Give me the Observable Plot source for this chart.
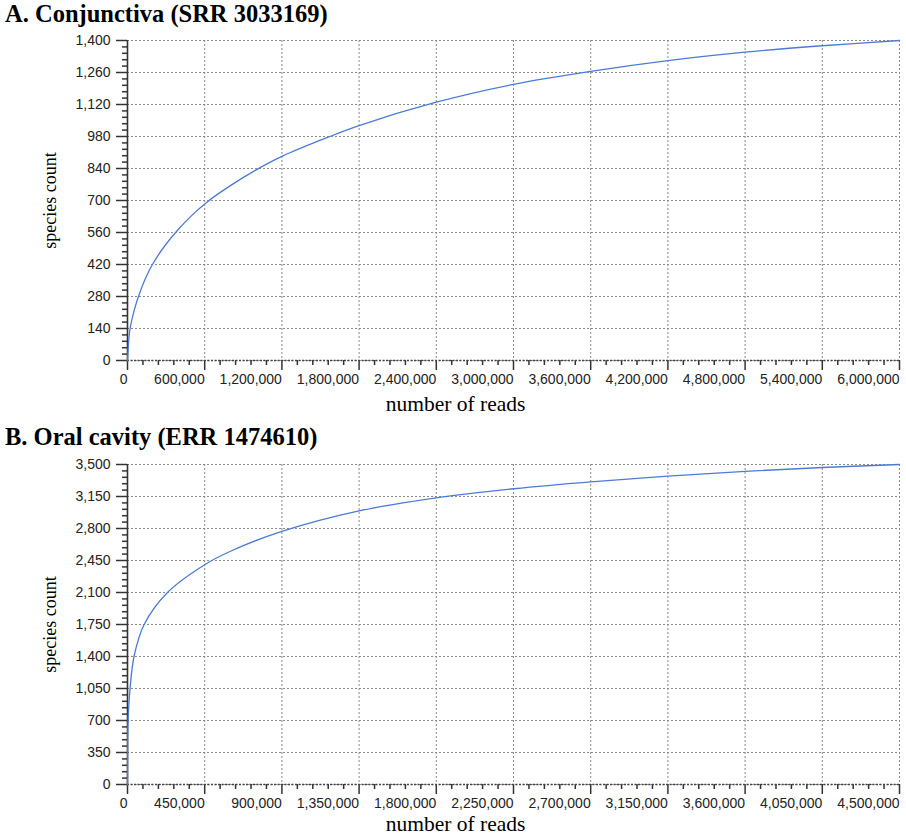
<!DOCTYPE html>
<html><head><meta charset="utf-8">
<script src="https://cdn.jsdelivr.net/npm/d3@7"></script>
<script src="https://cdn.jsdelivr.net/npm/@observablehq/plot@0.6"></script>
<style>
body{margin:0;background:#fff;width:906px;}
.title{font-family:"Liberation Serif","Times New Roman",serif;font-weight:bold;font-size:24.5px;line-height:27.4px;height:24px;overflow:visible;padding-left:5px;color:#000;white-space:nowrap;}
svg{display:block}
</style></head><body><div id="root"></div>
<script>
// Panel A: Conjunctiva (SRR 3033169)
const readsA   = [0, 10000, 20000, 50000, 85000, 140000, 194000, 290000, 389000, 500000, 622000, 803000, 1000000, 1200000, 1550000, 1800000, 2400000, 3000000, 3600000, 4200000, 4800000, 5400000, 6000000];
const speciesA = [0, 90,    140,   215,   280,   360,    420,    502,    570,    635,    695,    766,    834,     893,     975,     1028,    1130,    1208,    1265,    1312,    1349,    1377,    1400];
const xTicksA = [0, 600000, 1200000, 1800000, 2400000, 3000000, 3600000, 4200000, 4800000, 5400000, 6000000];
const yTicksA = [0, 140, 280, 420, 560, 700, 840, 980, 1120, 1260, 1400];

// Panel B: Oral cavity (ERR 1474610)
const readsB   = [0, 1000, 3500, 15000, 38000, 97000, 233000, 450000, 600000, 900000, 1350000, 1800000, 2250000, 2700000, 3150000, 3600000, 4050000, 4500000];
const speciesB = [0, 350,  700,  1050,  1400,  1750,  2100,   2404,   2551,   2769,   2993,    3136,    3235,    3311,    3372,    3425,    3467,    3500];
const xTicksB = [0, 450000, 900000, 1350000, 1800000, 2250000, 2700000, 3150000, 3600000, 4050000, 4500000];
const yTicksB = [0, 350, 700, 1050, 1400, 1750, 2100, 2450, 2800, 3150, 3500];

const titles = ["A. Conjunctiva (SRR 3033169)", "B. Oral cavity (ERR 1474610)"];
const xLabel = "number of reads";
const yLabel = "species count";

const serif = '"Liberation Serif","Times New Roman",serif';
const fmt = d3.format(",");

function minor(ticks) {
  const step = (ticks[1] - ticks[0]) / 5;
  const out = [];
  for (let i = 0; i < ticks.length - 1; i++) for (let k = 1; k < 5; k++) out.push(ticks[i] + k * step);
  return out;
}

function panel(reads, species, xTicks, yTicks, height, marginTop, marginBottom, xLabDy) {
  const data = reads.map((r, i) => ({r, s: species[i]}));
  return Plot.plot({
    width: 906, height, marginLeft: 127, marginRight: 7, marginTop, marginBottom,
    style: {fontFamily: '"Liberation Sans", Arial, sans-serif', fontSize: "14px", color: "#222", background: "#fff", overflow: "visible"},
    x: {domain: [0, xTicks[xTicks.length - 1]], label: null},
    y: {domain: [0, yTicks[yTicks.length - 1]], label: null},
    marks: [
      Plot.gridX(xTicks, {stroke: "#8a8a8a", strokeOpacity: 1, strokeDasharray: "2,2"}),
      Plot.gridY(yTicks, {stroke: "#8a8a8a", strokeOpacity: 1, strokeDasharray: "2,2"}),
      Plot.axisX(minor(xTicks), {tickSize: 5, tickFormat: () => "", stroke: "#333", strokeWidth: 1.5}),
      Plot.axisX(xTicks, {tickSize: 10, tickPadding: 4, textAnchor: "end", tickFormat: fmt, stroke: "#333", strokeWidth: 1.5, fill: "#222", fontSize: 14}),
      Plot.axisY(minor(yTicks), {tickSize: 5, tickFormat: () => "", stroke: "#333", strokeWidth: 1.5}),
      Plot.axisY(yTicks, {tickSize: 11, tickPadding: 6, tickFormat: fmt, stroke: "#333", strokeWidth: 1.5, fill: "#222", fontSize: 14}),
      Plot.ruleX([0], {stroke: "#333", strokeWidth: 1.6}),
      Plot.ruleY([0], {stroke: "#444", strokeWidth: 1.3, strokeDasharray: "2,1.5"}),
      Plot.line(data, {x: "r", y: "s", stroke: "#4b7bd8", strokeWidth: 1.3, curve: "catmull-rom"}),
      Plot.text([yLabel], {frameAnchor: "left", textAnchor: "middle", lineAnchor: "middle", dx: -77, rotate: -90, fontFamily: serif, fontSize: 18, fill: "#000"}),
      Plot.text([xLabel], {frameAnchor: "bottom", textAnchor: "middle", lineAnchor: "middle", dx: -58, dy: xLabDy, fontFamily: serif, fontSize: 21.5, fill: "#000"})
    ]
  });
}

const root = document.getElementById("root");
function addTitle(t) {
  const d = document.createElement("div");
  d.className = "title";
  d.textContent = t;
  root.appendChild(d);
}
addTitle(titles[0]);
root.appendChild(panel(readsA, speciesA, xTicksA, yTicksA, 399, 16, 63, 44));
addTitle(titles[1]);
root.appendChild(panel(readsB, speciesB, xTicksB, yTicksB, 389, 17, 52, 40));
</script></body></html>
